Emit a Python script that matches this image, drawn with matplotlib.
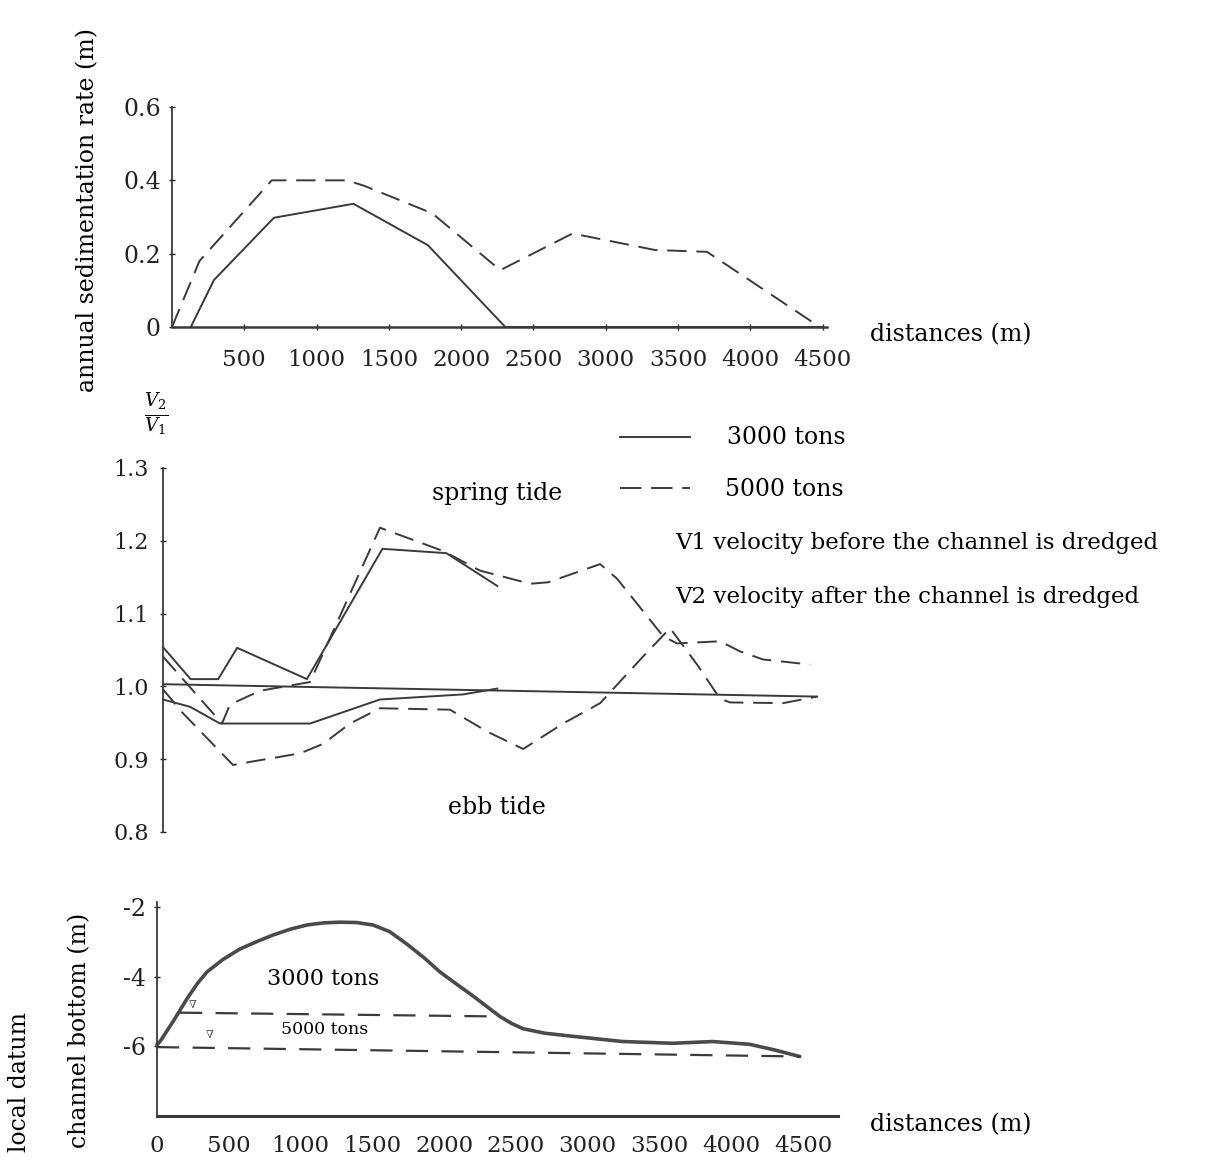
import matplotlib
matplotlib.use("Agg")
import matplotlib.pyplot as plt
from matplotlib.lines import Line2D

plt.rcParams["font.family"] = ["DejaVu Serif"]
plt.rcParams["mathtext.fontset"] = "dejavuserif"

# annual sedimentation rate (m) vs distance (m)
sed_3000_x = [130, 290, 705, 1255, 1770, 2305, 4500]
sed_3000_y = [0, 0.128, 0.298, 0.336, 0.223, 0, 0]
sed_5000_x = [0, 190, 690, 1210, 1330, 1800, 2270, 2770, 3340, 3700, 4480]
sed_5000_y = [0, 0.18, 0.40, 0.40, 0.385, 0.31, 0.155, 0.255, 0.21, 0.205, 0]
sed_ticks = [500, 1000, 1500, 2000, 2500, 3000, 3500, 4000, 4500]
sed_yticks = [0, 0.2, 0.4, 0.6]
sed_ylabels = ["0", "0.2", "0.4", "0.6"]

# velocity ratio V2/V1
base_x = [0, 4500]
base_y = [1.003, 0.986]
spring_3000_x = [0, 190, 380, 510, 990, 1510, 1950, 2300]
spring_3000_y = [1.054, 1.01, 1.01, 1.053, 1.01, 1.189, 1.183, 1.138]
spring_5000_x = [0, 406, 461, 668, 1012, 1493, 1927, 2182, 2526, 2650, 3008, 3124,
                 3441, 3537, 3833, 3971, 4129, 4453]
spring_5000_y = [1.041, 0.949, 0.975, 0.994, 1.006, 1.218, 1.186, 1.159, 1.141, 1.143,
                 1.168, 1.148, 1.069, 1.059, 1.062, 1.048, 1.037, 1.03]
ebb_3000_x = [0, 186, 392, 1012, 1493, 2065, 2300]
ebb_3000_y = [0.982, 0.972, 0.949, 0.949, 0.982, 0.989, 0.997]
ebb_5000_x = [0, 138, 482, 619, 943, 1101, 1287, 1493, 1975, 2230, 2478, 2753, 3008,
              3303, 3489, 3675, 3833, 3902, 4267, 4500]
ebb_5000_y = [0.996, 0.963, 0.892, 0.897, 0.908, 0.921, 0.949, 0.970, 0.968, 0.938,
              0.914, 0.949, 0.977, 1.041, 1.08, 1.03, 0.983, 0.978, 0.977, 0.986]
ratio_ticks = [0.8, 0.9, 1.0, 1.1, 1.2, 1.3]

# channel bottom below local datum (m)
bed_x = [0, 21, 111, 209, 280, 348, 460, 578, 700, 808, 930, 1045, 1160, 1274, 1390,
         1504, 1620, 1741, 1860, 1971, 2090, 2201, 2300, 2389, 2470, 2549, 2700, 2897,
         3245, 3593, 3872, 4129, 4290, 4478]
bed_y = [-5.95, -5.86, -5.29, -4.63, -4.2, -3.86, -3.5, -3.2, -2.98, -2.8, -2.63,
         -2.51, -2.45, -2.43, -2.44, -2.51, -2.7, -3.06, -3.45, -3.86, -4.22, -4.55,
         -4.86, -5.14, -5.34, -5.49, -5.62, -5.71, -5.86, -5.91, -5.86, -5.94, -6.09,
         -6.29]
dredge_3000_x = [160, 2390]
dredge_3000_y = [-5.03, -5.14]
dredge_5000_x = [0, 4478]
dredge_5000_y = [-6.02, -6.29]
bed_ticks = [0, 500, 1000, 1500, 2000, 2500, 3000, 3500, 4000, 4500]
bed_yticks = [-2, -4, -6]
bed_ylabels = ["-2", "-4", "-6"]

W, H = 1220, 1169
INK = "#3a3a3a"
DASH = (0, (10, 5))


def rect(left, top, right, bottom):
    return [left / W, 1 - bottom / H, (right - left) / W, (bottom - top) / H]


def style(axis, show_bottom=True):
    for side in ("top", "right"):
        axis.spines[side].set_visible(False)
    axis.spines["bottom"].set_visible(show_bottom)
    for side in ("left", "bottom"):
        axis.spines[side].set_color(INK)
        axis.spines[side].set_linewidth(1.3)
    axis.tick_params(colors="#222222", labelsize=16, length=4, width=1, direction="inout")
    axis.patch.set_alpha(0)


fig = plt.figure(figsize=(W / 100, H / 100), dpi=100)

# top panel
top = fig.add_axes(rect(172, 107, 827, 327))
top.plot(sed_3000_x, sed_3000_y, color=INK, lw=1.4, clip_on=False)
top.plot(sed_5000_x, sed_5000_y, color=INK, lw=1.4, linestyle=DASH, clip_on=False)
top.set_xlim(0, 4530)
top.set_ylim(0, 0.6)
top.set_xticks(sed_ticks)
top.set_xticklabels([str(t) for t in sed_ticks])
top.set_yticks(sed_yticks)
top.set_yticklabels(sed_ylabels)
style(top)
top.spines["bottom"].set_linewidth(1.8)
top.tick_params(axis="x", pad=14, labelsize=16.5)
top.tick_params(axis="y", pad=6, labelsize=17)
fig.text(88 / W, 1 - 210 / H, "annual sedimentation rate (m)", rotation=90,
         ha="center", va="center", fontsize=17)
fig.text(870 / W, 1 - 335 / H, "distances (m)", ha="left", va="center", fontsize=17)

# middle panel
mid = fig.add_axes(rect(163, 468, 817, 832))
mid.plot(base_x, base_y, color=INK, lw=1.4, clip_on=False)
mid.plot(spring_3000_x, spring_3000_y, color=INK, lw=1.4, clip_on=False)
mid.plot(ebb_3000_x, ebb_3000_y, color=INK, lw=1.4, clip_on=False)
mid.plot(spring_5000_x, spring_5000_y, color=INK, lw=1.4, linestyle=DASH, clip_on=False)
mid.plot(ebb_5000_x, ebb_5000_y, color=INK, lw=1.4, linestyle=DASH, clip_on=False)
mid.set_xlim(0, 4500)
mid.set_ylim(0.8, 1.3)
mid.set_xticks([])
mid.set_yticks(ratio_ticks)
mid.set_yticklabels([f"{t:.1f}" for t in ratio_ticks])
style(mid, show_bottom=False)
mid.tick_params(axis="y", pad=8, labelsize=16)
mid.text(2300, 1.265, "spring tide", ha="center", va="center", fontsize=17)
mid.text(2300, 0.834, "ebb tide", ha="center", va="center", fontsize=17)
fig.text(156 / W, 1 - 415 / H, r"$\frac{V_2}{V_1}$", ha="center", va="center", fontsize=19)

# legend drawn by hand, as in the original figure
fig.add_artist(Line2D([620 / W, 690 / W], [1 - 437 / H] * 2, color=INK, lw=1.4))
fig.add_artist(Line2D([620 / W, 690 / W], [1 - 488 / H] * 2, color=INK, lw=1.4,
                      linestyle=(0, (11, 5))))
fig.text(727 / W, 1 - 437 / H, "3000 tons", ha="left", va="center", fontsize=17)
fig.text(725 / W, 1 - 489 / H, "5000 tons", ha="left", va="center", fontsize=17)
fig.text(675 / W, 1 - 543 / H, "V1 velocity before the channel is dredged",
         ha="left", va="center", fontsize=16.5)
fig.text(675 / W, 1 - 597 / H, "V2 velocity after the channel is dredged",
         ha="left", va="center", fontsize=16.5)

# bottom panel
bot = fig.add_axes(rect(157, 902, 838, 1116))
bot.plot(bed_x, bed_y, color="#4a4a4a", lw=2.6, clip_on=False,
         solid_joinstyle="round", solid_capstyle="round")
bot.plot(dredge_3000_x, dredge_3000_y, color=INK, lw=1.6, linestyle=(0, (10, 6)))
bot.plot(dredge_5000_x, dredge_5000_y, color=INK, lw=1.6, linestyle=(0, (10, 6)))
bot.set_xlim(0, 4744)
bot.set_ylim(-8, -1.85)
bot.set_xticks(bed_ticks)
bot.set_xticklabels([str(t) for t in bed_ticks])
bot.set_yticks(bed_yticks)
bot.set_yticklabels(bed_ylabels)
style(bot)
bot.spines["bottom"].set_linewidth(2.2)
bot.tick_params(axis="x", pad=14, labelsize=16.5, length=0)
bot.tick_params(axis="y", pad=6, labelsize=17)
bot.text(1156, -4.06, "3000 tons", ha="center", va="center", fontsize=16)
bot.text(1170, -5.5, "5000 tons", ha="center", va="center", fontsize=12.5)
bot.text(251, -4.8, "∇", ha="center", va="center", fontsize=8, color="#555555")
bot.text(369, -5.66, "∇", ha="center", va="center", fontsize=8, color="#555555")
fig.text(80 / W, 1 - 1030 / H, "channel bottom (m)", rotation=90,
         ha="center", va="center", fontsize=17)
fig.text(20 / W, 1 - 1082 / H, "local datum", rotation=90,
         ha="center", va="center", fontsize=17)
fig.text(870 / W, 1 - 1125 / H, "distances (m)", ha="left", va="center", fontsize=17)

fig.savefig("out.png", dpi=100)
